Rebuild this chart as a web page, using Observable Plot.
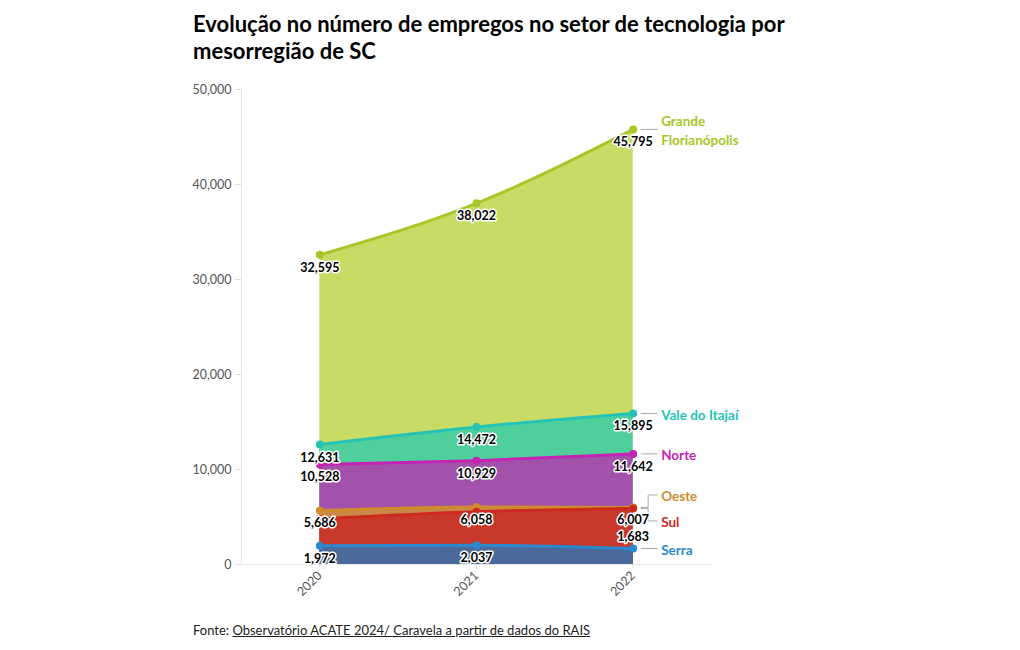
<!DOCTYPE html>
<html>
<head>
<meta charset="utf-8">
<script src="https://cdn.jsdelivr.net/npm/d3@7"></script>
<script src="https://cdn.jsdelivr.net/npm/@observablehq/plot@0.6"></script>
<style>
  html, body { margin: 0; padding: 0; background: #fff; }
  body { width: 1020px; height: 650px; position: relative; font-family: Lato, "Noto Sans", sans-serif; }
  #title { position: absolute; left: 193px; top: 10px; width: 660px; font-size: 22px; font-weight: 700; line-height: 27px; color: #000; }
  #chart { position: absolute; left: 0; top: 70px; }
  #foot { position: absolute; left: 193px; top: 622px; font-size: 13px; color: #222; }
  #foot a { color: #222; text-decoration: underline; }
</style>
</head>
<body>
<div id="title">Evolução no número de empregos no setor de tecnologia por mesorregião de SC</div>
<div id="chart"></div>
<div id="foot">Fonte: <a>Observatório ACATE 2024/ Caravela a partir de dados do RAIS</a></div>
<script>
const years = [2020, 2021, 2022];
const regions = ["Grande Florianópolis", "Vale do Itajaí", "Norte", "Oeste", "Sul", "Serra"];
const grandeFlorianopolis = [32595, 38022, 45795];
const valeDoItajai = [12631, 14472, 15895];
const norte = [10528, 10929, 11642];
const oeste = [5686, 6058, 6007];
const sul = [4800, 5550, 5900];
const serra = [1972, 2037, 1683];
const lineColors = ["#a9c628", "#26c3b5", "#c424b3", "#d08b2c", "#cc2a1f", "#2a89cd"];
const areaColors = ["#c7db65", "#4fcf9c", "#a352ac", "#c9884a", "#c8392b", "#4b6a9b"];
const yTicks = [0, 10000, 20000, 30000, 40000, 50000];
const hiddenValueLabels = ["Sul"];
const labelNames = {"Grande Florianópolis": "Grande\nFlorianópolis"};

const series = [grandeFlorianopolis, valeDoItajai, norte, oeste, sul, serra];
const data = [];
regions.forEach((r, i) => years.forEach((y, j) => data.push({region: r, year: y, value: series[i][j], idx: i})));

// layout
const W = 1020, H = 545;
const mL = 241, mR = 309, mT = 19, mB = 51;
const pxPerYear = (W - mL - mR) / 3;
const pxPerUnit = (H - mT - mB) / 50000;
const lastYear = years[years.length - 1];

// value labels
const fmt = d3.format(",");
const lowest = regions[regions.length - 1];
const valueLabels = data.filter(d => !hiddenValueLabels.includes(d.region));
const below = valueLabels.filter(d => !(d.region === lowest && d.year === lastYear));
const above = valueLabels.filter(d => d.region === lowest && d.year === lastYear);

// right labels with dodge
const gap = 26 / pxPerUnit;
const ends = regions.map((r, i) => ({region: r, value: series[i][series[i].length - 1], idx: i}));
const sorted = [...ends].sort((a, b) => a.value - b.value);
sorted.forEach(d => d.pos = d.value);
for (let it = 0; it < 200; it++) {
  for (let k = 0; k < sorted.length - 1; k++) {
    const a = sorted[k], b = sorted[k + 1];
    if (b.pos - a.pos < gap) {
      const m = (a.pos + b.pos) / 2;
      a.pos = m - gap / 2; b.pos = m + gap / 2;
    }
  }
}
const conn = [];
const xa = lastYear + 8 / pxPerYear, xb = lastYear + 15 / pxPerYear, xc = lastYear + 24 / pxPerYear;
ends.forEach(d => {
  conn.push({region: d.region, x: xa, y: d.value});
  conn.push({region: d.region, x: xb, y: d.value});
  conn.push({region: d.region, x: xb, y: d.pos});
  conn.push({region: d.region, x: xc, y: d.pos});
});

const colorLine = r => lineColors[regions.indexOf(r)];
const colorArea = r => areaColors[regions.indexOf(r)];

const chart = Plot.plot({
  width: W, height: H,
  marginLeft: mL, marginRight: mR, marginTop: mT, marginBottom: mB,
  style: {fontFamily: "Lato, 'Noto Sans', sans-serif", fontSize: "12px", background: "#fff", color: "#555"},
  x: {domain: [2019.5, 2022.5], label: null, axis: null},
  y: {domain: [0, 50000], label: null, axis: null},
  marks: [
    Plot.ruleX([2019.5], {stroke: "#e6e6e6"}),
    Plot.ruleY([0], {stroke: "#e6e6e6"}),
    Plot.axisY({ticks: yTicks, tickFormat: fmt, tickSize: 6, tickPadding: 4, stroke: "#e0e0e0", fill: "#555", fontSize: 12.5, label: null}),
    Plot.axisX({ticks: years, tickFormat: d => String(d), tickRotate: -45, tickSize: 5, tickPadding: 4, stroke: "#e0e0e0", fill: "#555", fontSize: 12.5, label: null}),
    ...regions.map(r => Plot.areaY(data.filter(d => d.region === r), {x: "year", y: "value", fill: colorArea(r), curve: "monotone-x"})),
    ...regions.map(r => Plot.line(data.filter(d => d.region === r), {x: "year", y: "value", stroke: colorLine(r), strokeWidth: 3, curve: "monotone-x"})),
    ...regions.map(r => Plot.dot(data.filter(d => d.region === r), {x: "year", y: "value", fill: colorLine(r), r: 4})),
    Plot.line(conn, {x: "x", y: "y", z: "region", stroke: "#aaa", strokeWidth: 1}),
    Plot.text(below, {x: "year", y: "value", text: d => fmt(d.value), dy: 13, fill: "#000", fontWeight: 700, fontSize: 12.5, stroke: "#fff", strokeWidth: 3}),
    Plot.text(above, {x: "year", y: "value", text: d => fmt(d.value), dy: -12, fill: "#000", fontWeight: 700, fontSize: 12.5, stroke: "#fff", strokeWidth: 3}),
    Plot.text(ends, {x: lastYear, y: "pos", text: d => labelNames[d.region] || d.region, dx: 28, textAnchor: "start", lineAnchor: "middle", lineHeight: 1.4, fill: d => lineColors[d.idx], fontWeight: 700, fontSize: 13.5})
  ]
});
document.getElementById("chart").appendChild(chart);
</script>
</body>
</html>
